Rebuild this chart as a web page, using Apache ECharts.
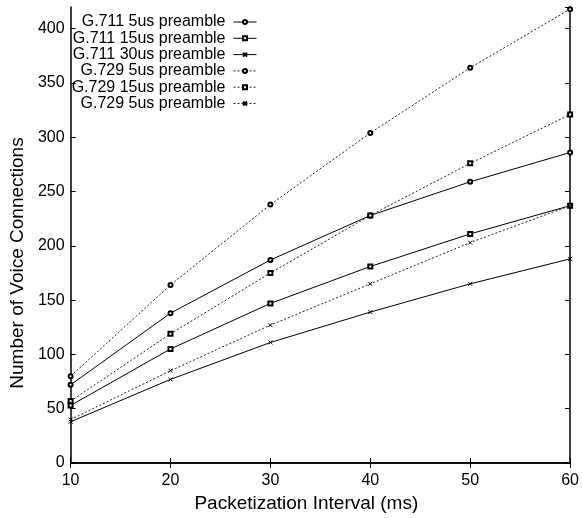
<!DOCTYPE html>
<html>
<head>
<meta charset="utf-8">
<script src="https://cdn.jsdelivr.net/npm/echarts@6/dist/echarts.min.js"></script>
<style>
  html, body { margin: 0; padding: 0; background: #fff; }
  #chart { width: 582px; height: 518px; }
</style>
</head>
<body>
<div id="chart"></div>
<script>
// packetization intervals (ms)
const intervals = [10, 20, 30, 40, 50, 60]
const seriesNames = [
  'G.711 5us preamble',
  'G.711 15us preamble',
  'G.711 30us preamble',
  'G.729 5us preamble',
  'G.729 15us preamble',
  'G.729 5us preamble ' // same label twice in the source, trailing space keeps it unique
]
const g711_5 = [72, 138, 187, 228, 259, 286]
const g711_15 = [53, 105, 147, 181, 211, 237]
const g711_30 = [38, 77, 111, 139, 165, 188]
const g729_5 = [80, 164, 238, 304, 364, 418]
const g729_15 = [57, 119, 175, 228, 276, 321]
const g729_30 = [40, 85, 127, 165, 203, 237]

const FONT = '"Liberation Sans", Arial, Helvetica, sans-serif'
const cross = 'path://M0,0L10,10M0,10L10,0'

const styles = [
  { symbol: 'emptyCircle', dashed: false },
  { symbol: 'emptyRect', dashed: false },
  { symbol: cross, dashed: false },
  { symbol: 'emptyCircle', dashed: true },
  { symbol: 'emptyRect', dashed: true },
  { symbol: cross, dashed: true }
]
const values = [g711_5, g711_15, g711_30, g729_5, g729_15, g729_30]

const myChart = echarts.init(document.getElementById('chart'))

const series = values.map((vals, i) => ({
  name: seriesNames[i],
  type: 'line',
  data: vals.map((v, j) => [intervals[j], v]),
  symbol: styles[i].symbol,
  symbolSize: 4,
  showAllSymbol: true,
  animation: false,
  lineStyle: {
    color: styles[i].dashed ? '#222' : '#000',
    width: 1,
    type: styles[i].dashed ? [2, 2] : 'solid'
  },
  itemStyle: {
    color: '#000',
    borderColor: '#000',
    borderWidth: 1
  }
}))

// one legend per row so the text stays right aligned
const legends = seriesNames.map((name, i) => ({
  data: [name],
  right: 325,
  top: 14 + i * 16.3,
  align: 'right',
  itemWidth: 23,
  itemHeight: 5,
  padding: 0,
  selectedMode: false,
  lineStyle: { width: 1 },
  formatter: n => n.trim(),
  textStyle: { fontFamily: FONT, fontSize: 16, color: '#000', padding: [0, 3, 0, 0] }
}))

const axisLine = { show: true, lineStyle: { color: '#000', width: 1.5 } }
const axisTick = { show: true, inside: true, length: 5, lineStyle: { color: '#000', width: 1 } }

const option = {
  backgroundColor: '#fff',
  animation: false,
  grid: { left: 68, right: 9, top: 7, bottom: 53 },
  legend: legends,
  xAxis: [
    {
      type: 'value',
      min: 10,
      max: 60,
      interval: 10,
      name: 'Packetization Interval (ms)',
      nameLocation: 'middle',
      nameGap: 31,
      nameTextStyle: { fontFamily: FONT, fontSize: 19, color: '#000', padding: [0, 28, 0, 0] },
      axisLine: axisLine,
      axisTick: axisTick,
      axisLabel: { fontFamily: FONT, fontSize: 16, color: '#000', margin: 10 },
      splitLine: { show: false }
    },
    {
      type: 'value',
      position: 'top',
      min: 10,
      max: 60,
      interval: 10,
      axisLine: axisLine,
      axisTick: axisTick,
      axisLabel: { show: false },
      splitLine: { show: false }
    }
  ],
  yAxis: [
    {
      type: 'value',
      min: 0,
      max: 420,
      interval: 50,
      name: 'Number of Voice Connections',
      nameLocation: 'middle',
      nameGap: 41,
      nameTextStyle: { fontFamily: FONT, fontSize: 19, color: '#000', padding: [0, 56, 0, 0] },
      axisLine: axisLine,
      axisTick: axisTick,
      axisLabel: { fontFamily: FONT, fontSize: 16, color: '#000', margin: 6, showMaxLabel: false },
      splitLine: { show: false }
    },
    {
      type: 'value',
      position: 'right',
      min: 0,
      max: 420,
      interval: 50,
      axisLine: axisLine,
      axisTick: axisTick,
      axisLabel: { show: false },
      splitLine: { show: false }
    }
  ],
  series: series
}

myChart.setOption(option)
</script>
</body>
</html>
